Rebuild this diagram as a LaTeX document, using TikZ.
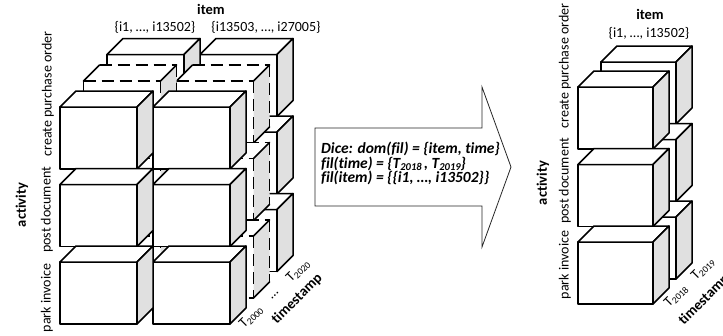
\documentclass[tikz,border=0pt]{standalone}
\usepackage{fontspec}
\setmainfont{Carlito}[Ligatures={NoCommon}]
\colorlet{sidegray}{black!12}
\tikzset{
  cubeline/.style={line width=1.5pt, line join=round, line cap=round},
  dashline/.style={dash pattern=on 12pt off 6pt, line cap=butt},
  lab/.style={font=\fontsize{14}{16}\selectfont, inner sep=0pt},
  blab/.style={font=\fontsize{14.5}{16}\selectfont\bfseries, inner sep=0pt},
  dicetext/.style={font=\fontsize{15.5}{15.5}\selectfont\bfseries\itshape, inner sep=0pt, anchor=base west},
  bigarrow/.style={draw=black!85, line width=0.8pt, fill=white, line join=miter}
}
\newcommand\subtext[1]{\raisebox{-0.35ex}{\fontsize{9.5}{9.5}\selectfont #1}}
\newcommand\subdice[1]{\raisebox{-0.3ex}{\fontsize{10.5}{10.5}\selectfont\bfseries\itshape #1}}
\newcommand\solidcube[3]{%
  \filldraw[cubeline,fill=white] (#1,#2) rectangle ++(#3,62);
  \filldraw[cubeline,fill=white] (#1,#2) -- ++(16,-16) -- ++(#3,0) -- ++(-16,16) -- cycle;
  \filldraw[cubeline,fill=sidegray] (#1+#3,#2) -- ++(16,-16) -- ++(0,62) -- ++(-16,16) -- cycle;
}
\newcommand\dashcube[3]{%
  \fill[white] (#1,#2) rectangle ++(#3,62);
  \fill[white] (#1,#2) -- ++(16,-16) -- ++(#3,0) -- ++(-16,16) -- cycle;
  \fill[sidegray] (#1+#3,#2) -- ++(16,-16) -- ++(0,62) -- ++(-16,16) -- cycle;
  \draw[cubeline,dashline] (#1,#2) -- ++(#3,0);
  \draw[cubeline,dashline] (#1,#2+62) -- ++(#3,0);
  \draw[cubeline,dashline] (#1+16,#2-16) -- ++(#3,0);
  \draw[cubeline,dashline] (#1,#2) -- ++(0,62);
  \draw[cubeline,dashline] (#1+#3,#2) -- ++(0,62);
  \draw[cubeline,dashline] (#1+#3+16,#2-16) -- ++(0,62);
  \draw[cubeline] (#1,#2) -- ++(16,-16);
  \draw[cubeline] (#1+#3,#2) -- ++(16,-16);
  \draw[cubeline] (#1+#3,#2+62) -- ++(16,-16);
}
\begin{document}
\begin{tikzpicture}[x=1pt,y=-1pt]
\useasboundingbox (0,0) rectangle (723,335);
% ---------- left cube: back layer ----------
\foreach \r in {0,1,2}{
  \solidcube{107+93}{54.5+77.5*\r}{77}
  \solidcube{107}{54.5+77.5*\r}{77}
}
% middle layer (dashed)
\foreach \r in {0,1,2}{
  \dashcube{83.5+93}{81+77.5*\r}{77}
  \dashcube{83.5}{81+77.5*\r}{77}
}
% front layer
\foreach \r in {0,1,2}{
  \solidcube{60+93}{107+77.5*\r}{77}
  \solidcube{60}{107+77.5*\r}{77}
}
% left labels
\node[blab] (itemL) at (211,9) {item};
\node[lab] (setA) at (155,27) {\{i1, …, i13502\}};
\node[lab] (setB) at (266,27) {\{i13503, …, i27005\}};
\node[lab,rotate=90] (cpoL) at (48,94) {create purchase order};
\node[lab,rotate=90] (pdL) at (47,210) {post document};
\node[lab,rotate=90] (piL) at (47,298) {park invoice};
\node[blab,rotate=90] (actL) at (22,205) {activity};
\node[lab,rotate=45] (t2000) at (251,317) {T\subtext{2000}};
\node[lab,rotate=45] (tdots) at (275,296) {…};
\node[lab,rotate=45] (t2020) at (298,271) {T\subtext{2020}};
\node[blab,rotate=45] (tsL) at (297,299) {timestamp};
% ---------- arrow ----------
\draw[bigarrow] (315,128) -- (482,128) -- (482,87) -- (511,167) -- (482,247) -- (482,206) -- (315,206) -- cycle;
\node[dicetext] (dice1) at (321,153.5) {Dice: dom(fil) = \{item, time\}};
\node[dicetext] (dice2) at (321,168) {fil(time) = \{T\subdice{2018}\,, T\subdice{2019}\}};
\node[dicetext] (dice3) at (321,182.5) {fil(item) = \{\{i1, …, i13502\}\}};
% ---------- right cube ----------
\foreach \r in {0,1,2}{
  \solidcube{601}{62+77.5*\r}{75}
}
\foreach \r in {0,1,2}{
  \solidcube{578}{87+77.5*\r}{75}
}
\node[blab] (itemR) at (650,14) {item};
\node[lab] (setR) at (649,33) {\{i1, …, i13502\}};
\node[lab,rotate=90] (cpoR) at (565,66) {create purchase order};
\node[lab,rotate=90] (pdR) at (565,181) {post document};
\node[lab,rotate=90] (piR) at (565,265) {park invoice};
\node[blab,rotate=90] (actR) at (543,183) {activity};
\node[lab,rotate=45] (t2018) at (676,296) {T\subtext{2018}};
\node[lab,rotate=45] (t2019) at (703,269) {T\subtext{2019}};
\node[blab,rotate=45] (tsR) at (704,300) {timestamp};
\end{tikzpicture}
\end{document}
